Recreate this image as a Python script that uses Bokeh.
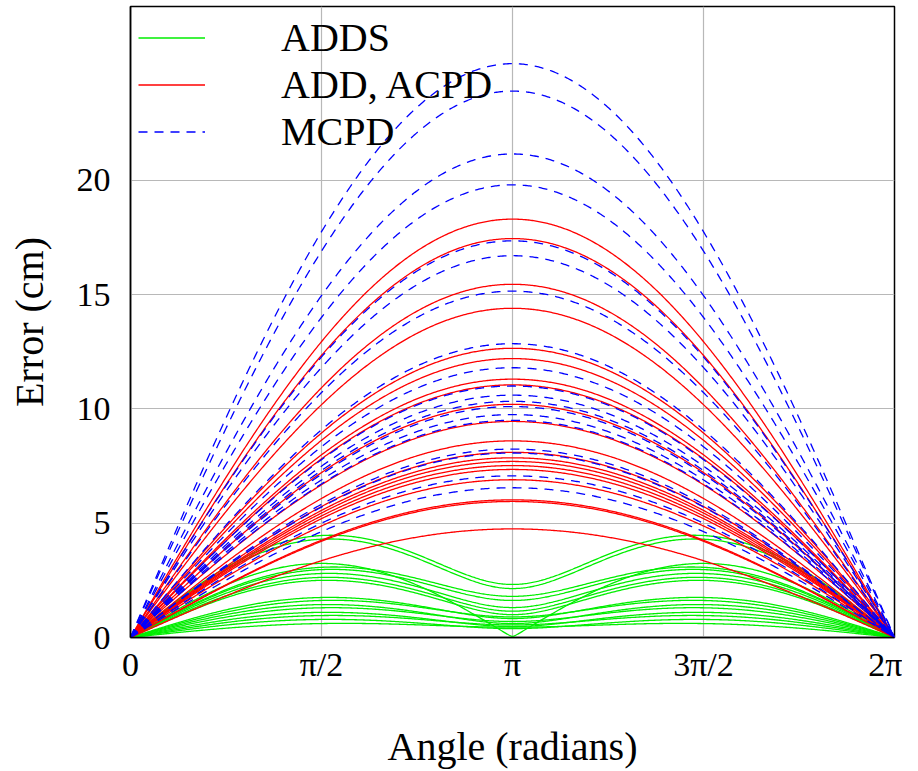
import numpy as np
from bokeh.plotting import figure
from bokeh.models import Range1d, FixedTicker
from bokeh.embed import file_html
from bokeh.resources import INLINE

# ---- data ----
# peak error at angle pi for each ADD/ACPD curve (red)
red_peaks = [18.3, 17.45, 15.45, 14.4, 12.65, 12.2, 11.3, 11.05, 10.2, 9.45,
             8.6, 8.1, 7.86, 7.7, 7.52, 7.35, 6.9, 6.02, 5.95, 4.75]
# peak error at angle pi for each MCPD curve (blue, dashed)
blue_peaks = [25.1, 23.9, 21.15, 19.8, 17.35, 16.7, 15.15, 12.85, 11.8, 11.0,
              10.6, 10.33, 10.1, 9.75, 9.5, 8.24, 8.07, 7.07, 6.55]
# ADDS curves (green): error at pi/2 and error at pi
green_half_pi = [4.46, 4.30, 3.24, 3.07, 2.97, 2.80, 2.63, 2.50,
                 1.75, 1.62, 1.44, 1.30, 1.10, 0.96, 0.79, 0.61]
green_pi = [2.32, 2.14, 0.05, 1.80, 1.62, 1.31, 1.15, 1.00,
            0.83, 0.90, 0.61, 0.70, 0.48, 0.55, 0.39, 0.45]

x_ticks = [0, np.pi / 2, np.pi, 3 * np.pi / 2, 2 * np.pi]
x_tick_labels = ["0", "π/2", "π", "3π/2", "2π"]
y_ticks = [0, 5, 10, 15, 20]

theta = np.linspace(0, 2 * np.pi, 600)
s_half = np.sin(theta / 2)
s_full = np.abs(np.sin(theta))

red_ys = [pk * s_half for pk in red_peaks]
blue_ys = [pk * s_half for pk in blue_peaks]
green_ys = []
for v2, vpi in zip(green_half_pi, green_pi):
    a2 = max(v2 ** 2 - vpi ** 2 / 2, 0)
    green_ys.append(np.sqrt(a2 * s_full ** 2 + vpi ** 2 * s_half ** 2))

FONT = "Liberation Serif"

p = figure(width=902, height=755, output_backend="svg", toolbar_location=None,
           x_range=Range1d(0, 2 * np.pi), y_range=Range1d(0, 27.6),
           min_border_left=130, min_border_right=8, min_border_top=6,
           min_border_bottom=118, frame_width=764, frame_height=631)

p.background_fill_color = "white"
p.border_fill_color = "white"
p.outline_line_color = "black"
p.outline_line_width = 1.5

p.xgrid.ticker = FixedTicker(ticks=x_ticks)
p.ygrid.ticker = FixedTicker(ticks=y_ticks)
p.xaxis.ticker = FixedTicker(ticks=x_ticks)
p.yaxis.ticker = FixedTicker(ticks=y_ticks)
p.xaxis.major_label_overrides = {t: l for t, l in zip(x_ticks, x_tick_labels)}
for g in (p.xgrid, p.ygrid):
    g.grid_line_color = "#b8b8b8"
    g.grid_line_width = 1.2

for ax in (p.xaxis, p.yaxis):
    ax.axis_line_color = "black"
    ax.axis_line_width = 1.5
    ax.major_tick_line_color = None
    ax.minor_tick_line_color = None
    ax.major_label_text_font = FONT
    ax.major_label_text_font_size = "34px"
    ax.major_label_text_color = "black"
    ax.axis_label_text_font = FONT
    ax.axis_label_text_font_size = "40px"
    ax.axis_label_text_font_style = "normal"
    ax.axis_label_text_color = "black"

p.xaxis.axis_label = "Angle (radians)"
p.yaxis.axis_label = "Error (cm)"
p.xaxis.major_label_standoff = 2
p.yaxis.major_label_standoff = 14
p.xaxis.axis_label_standoff = 38
p.yaxis.axis_label_standoff = 22

p.multi_line([theta] * len(green_ys), green_ys, line_color="#00ee00",
             line_width=1.3, legend_label="ADDS")
p.multi_line([theta] * len(red_ys), red_ys, line_color="#ff0000",
             line_width=1.3, legend_label="ADD, ACPD")
p.multi_line([theta] * len(blue_ys), blue_ys, line_color="#0000ff",
             line_width=1.3, line_dash="9 7", legend_label="MCPD")

lg = p.legend[0]
lg.location = "top_left"
lg.background_fill_alpha = 0
lg.border_line_color = None
lg.label_text_font = FONT
lg.label_text_font_size = "40px"
lg.label_text_color = "black"
lg.label_text_align = "center"
lg.glyph_width = 67
lg.glyph_height = 35
lg.label_height = 35
lg.spacing = 0
lg.label_standoff = 76
lg.margin = 8
lg.padding = 8

open("out.html", "w").write(file_html(p, INLINE))
